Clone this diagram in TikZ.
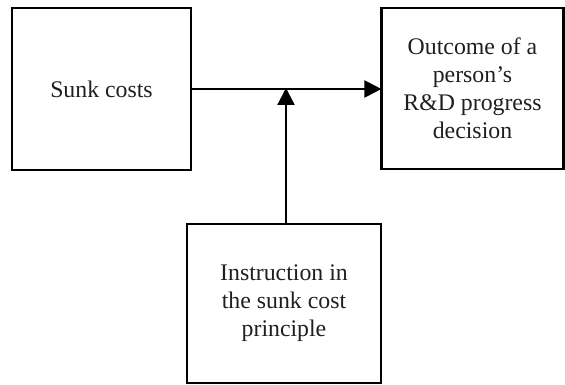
\documentclass[tikz,border=0pt]{standalone}
\usepackage{fontspec}
\setmainfont{Liberation Serif}
\usetikzlibrary{arrows.meta}
\begin{document}
\begin{tikzpicture}[x=1pt,y=1pt,
  box/.style={draw=black, line width=2.2pt, rectangle, align=center, inner sep=0pt,
    font=\fontsize{23.8}{28}\selectfont, text=black!88},
  conn/.style={line width=2.2pt, -{Triangle[length=17pt,width=17pt]}, shorten >=-1pt}]
\useasboundingbox (0,0) rectangle (565,385);
\node[box, minimum width=179pt, minimum height=162pt] (sunk) at (101.5,296) {Sunk costs};
\node[box, minimum width=182pt, minimum height=161pt] (out) at (472.5,296.5) {Outcome of a\\person’s\\R\&D progress\\decision};
\node[box, minimum width=194pt, minimum height=159pt] (instr) at (284,81.5) {Instruction in\\the sunk cost\\principle};
\coordinate (j) at (286,296);
\draw[conn] (sunk.east |- j) -- (out.west |- j);
\draw[conn] (instr.north -| j) -- (j);
\end{tikzpicture}
\end{document}
